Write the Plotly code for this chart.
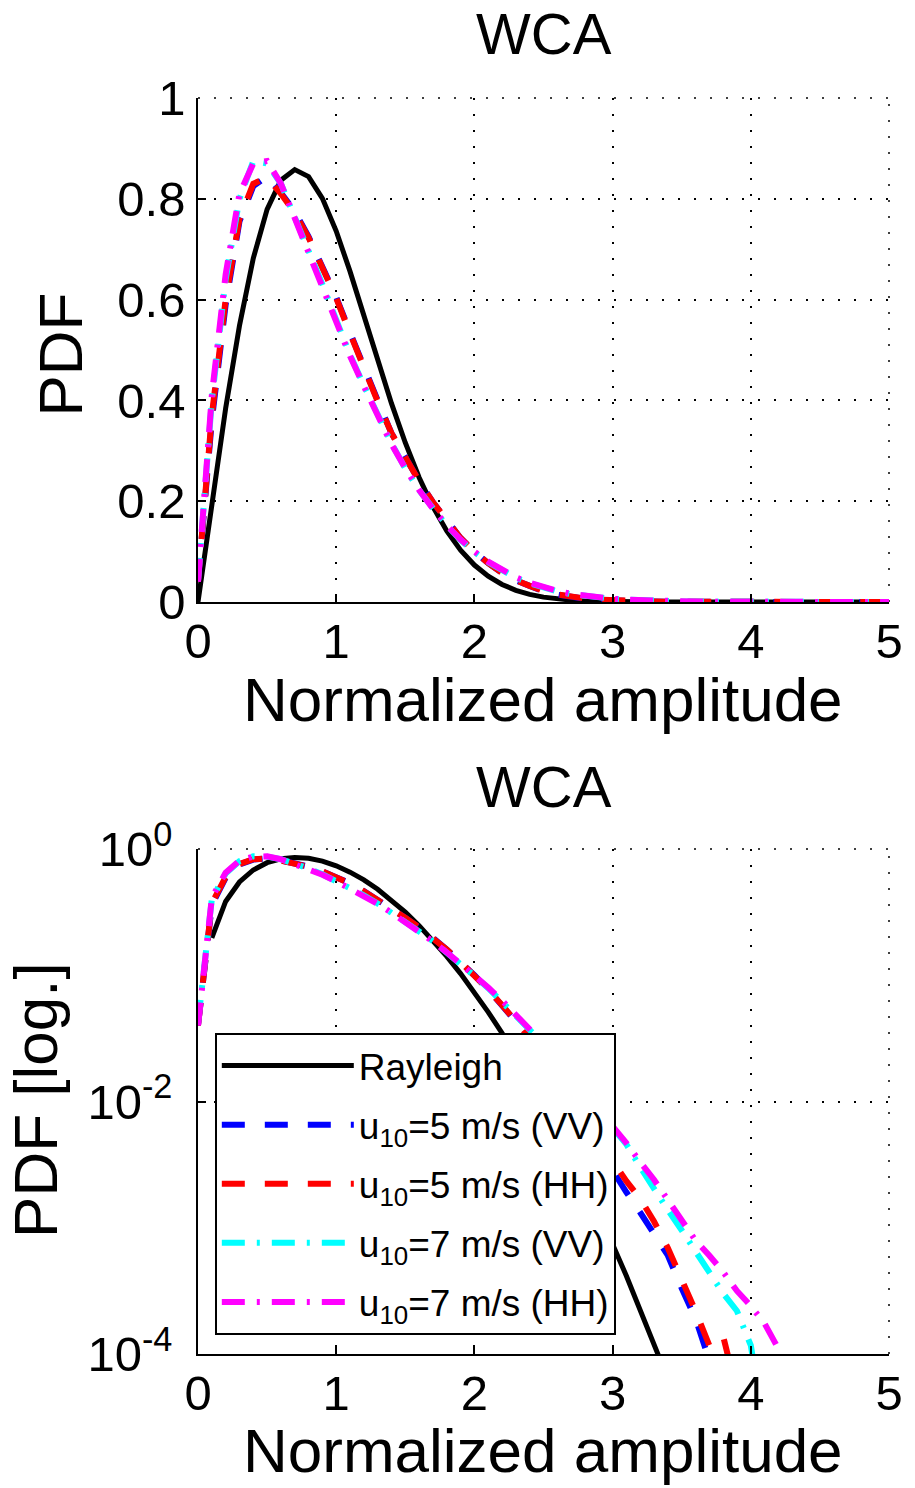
import plotly.graph_objects as go

# ---------------- data ----------------
x = [0.0, 0.1, 0.2, 0.3, 0.4, 0.5, 0.6, 0.7, 0.8, 0.9,
     1.0, 1.1, 1.2, 1.3, 1.4, 1.5, 1.6, 1.7, 1.8, 1.9,
     2.0, 2.1, 2.2, 2.3, 2.4, 2.5, 2.6, 2.7, 2.8, 2.9,
     3.0, 3.1, 3.2, 3.3, 3.4, 3.5, 3.6, 3.7, 3.8, 3.9,
     4.0, 4.1, 4.2, 4.3, 4.4, 4.5, 4.6, 4.7, 4.8, 4.9, 5.0]

rayleigh = [0.0, 0.198, 0.384, 0.548, 0.682, 0.779, 0.837, 0.858, 0.844, 0.801,
            0.736, 0.656, 0.569, 0.480, 0.394, 0.316, 0.247, 0.189, 0.141, 0.103,
            0.0733, 0.0511, 0.0348, 0.0232, 0.0151, 0.00965, 0.00603, 0.00369, 0.00221, 0.00129,
            0.00074, 0.000415, 0.000228, 0.000123, 0.000065, 0.000034, 0.000017, 0.0000085, 0.0000041, 0.0000019,
            0.0000009, 0.0, 0.0, 0.0, 0.0, 0.0, 0.0, 0.0, 0.0, 0.0, 0.0]

u5_vv = [0.040, 0.36, 0.59, 0.755, 0.825, 0.845, 0.812, 0.775, 0.725, 0.665,
         0.605, 0.535, 0.465, 0.400, 0.335, 0.285, 0.240, 0.198, 0.160, 0.127,
         0.100, 0.077, 0.058, 0.043, 0.032, 0.0214, 0.0145, 0.00955, 0.00631, 0.00417,
         0.00275, 0.00191, 0.00132, 0.000912, 0.000603, 0.000331, 0.000191, 0.0000891, 0.0000398, 0.0,
         0.0, 0.0, 0.0, 0.0, 0.0, 0.0, 0.0, 0.0, 0.0, 0.0, 0.0]

u5_hh = [0.040, 0.37, 0.60, 0.760, 0.830, 0.842, 0.810, 0.772, 0.723, 0.665,
         0.603, 0.533, 0.463, 0.398, 0.335, 0.285, 0.240, 0.198, 0.160, 0.127,
         0.100, 0.077, 0.058, 0.043, 0.032, 0.0219, 0.0151, 0.0102, 0.00692, 0.00479,
         0.00331, 0.00234, 0.00170, 0.00112, 0.000692, 0.000398, 0.000219, 0.000117, 0.000138, 0.0000501,
         0.0, 0.0, 0.0, 0.0, 0.0, 0.0, 0.0, 0.0, 0.0, 0.0, 0.0]

u7_vv = [0.042, 0.40, 0.64, 0.800, 0.875, 0.870, 0.830, 0.765, 0.700, 0.630,
         0.560, 0.490, 0.430, 0.370, 0.315, 0.265, 0.222, 0.186, 0.152, 0.123,
         0.099, 0.079, 0.062, 0.048, 0.037, 0.0282, 0.0209, 0.0155, 0.0115, 0.00851,
         0.00631, 0.00457, 0.00302, 0.00200, 0.00138, 0.000955, 0.000646, 0.000437, 0.000302, 0.000219,
         0.000117, 0.0000251, 0.0, 0.0, 0.0, 0.0, 0.0, 0.0, 0.0, 0.0, 0.0]

u7_hh = [0.040, 0.41, 0.65, 0.810, 0.870, 0.875, 0.830, 0.760, 0.695, 0.625,
         0.555, 0.488, 0.428, 0.368, 0.313, 0.265, 0.222, 0.185, 0.152, 0.124,
         0.100, 0.080, 0.063, 0.049, 0.038, 0.0288, 0.0219, 0.0162, 0.0120, 0.00891,
         0.00646, 0.00468, 0.00331, 0.00240, 0.00166, 0.00115, 0.000794, 0.000603, 0.000447, 0.000316,
         0.000240, 0.000174, 0.000110, 0.0000398, 0.0, 0.0, 0.0, 0.0, 0.0, 0.0, 0.0]

names = ["Rayleigh",
         "u<sub>10</sub>=5 m/s (VV)",
         "u<sub>10</sub>=5 m/s (HH)",
         "u<sub>10</sub>=7 m/s (VV)",
         "u<sub>10</sub>=7 m/s (HH)"]
series = [rayleigh, u5_vv, u5_hh, u7_vv, u7_hh]

x_ticks = [0, 1, 2, 3, 4, 5]
y_ticks = [0, 0.2, 0.4, 0.6, 0.8, 1]
y_ticktext = ["0", "0.2", "0.4", "0.6", "0.8", "1"]
ylog_ticks = [1e-4, 1e-2, 1]
ylog_ticktext = ["10<sup>-4</sup>", "10<sup>-2</sup>", "10<sup>0</sup>"]

# ---------------- styles ----------------
colors = ["black", "rgb(0,0,255)", "rgb(255,0,0)", "rgb(0,255,255)", "rgb(255,0,255)"]
dashes = ["solid", "23px,20px", "23px,20px", "23px,12px,3px,12px", "23px,12px,3px,12px"]
widths = [5, 6, 6, 6, 6]

W, H = 915, 1488
L, R, T, B = 198, 18, 98, 134
PW, PH = W - L - R, H - T - B


def pxx(X):
    return (X - L) / PW


def pxy(Y):
    return (H - B - Y) / PH


FONT = "Liberation Sans, Arial, Helvetica, sans-serif"
GRID_DASH = "2px,14px"

fig = go.Figure()
for row, (xa, ya) in enumerate([("x", "y"), ("x2", "y2")]):
    for i in range(5):
        yvals = series[i] if row == 0 else [v if v > 0 else None for v in series[i]]
        fig.add_trace(go.Scatter(
            x=x, y=yvals, mode="lines", name=names[i],
            xaxis=xa, yaxis=ya, connectgaps=False,
            line=dict(color=colors[i], width=widths[i], dash=dashes[i]),
            showlegend=(row == 1), legendgroup="g%d" % i,
        ))

axis_common = dict(
    showline=True, linecolor="black", linewidth=1.5,
    ticks="inside", ticklen=8, tickwidth=1.5, tickcolor="black",
    showgrid=True, gridcolor="black", gridwidth=1.5, griddash=GRID_DASH,
    zeroline=False, mirror=False,
    tickfont=dict(family=FONT, size=49, color="black"),
)

top_dom = [pxy(602), 1.0]
bot_dom = [0.0, pxy(849)]

fig.update_layout(
    width=W, height=H,
    margin=dict(l=L, r=R, t=T, b=B, pad=0),
    paper_bgcolor="white", plot_bgcolor="white",
    font=dict(family=FONT, color="black"),
    xaxis=dict(domain=[0, 1], range=[0, 5], tickvals=x_ticks, anchor="y",
               ticklabelstandoff=-5, **axis_common),
    yaxis=dict(domain=top_dom, range=[0, 1], tickvals=y_ticks, ticktext=y_ticktext,
               anchor="x", ticklabelstandoff=1, **axis_common),
    xaxis2=dict(domain=[0, 1], range=[0, 5], tickvals=x_ticks, anchor="y2",
                ticklabelstandoff=-5, **axis_common),
    yaxis2=dict(domain=bot_dom, type="log", range=[-4, 0], tickvals=ylog_ticks,
                ticktext=ylog_ticktext, anchor="x2", ticklabelstandoff=14, **axis_common),
    showlegend=True,
    legend=dict(
        x=pxx(215), y=pxy(1033), xanchor="left", yanchor="top",
        bgcolor="white", bordercolor="black", borderwidth=2,
        font=dict(family=FONT, size=37, color="black"),
        itemwidth=132, tracegroupgap=8,
    ),
)

# dotted grid lines along the top and right edges (box-off MATLAB style)
shapes = []
for xa, ya in [("x", "y"), ("x2", "y2")]:
    for (x0, x1, y0, y1) in [(0, 1, 1, 1), (1, 1, 0, 1)]:
        shapes.append(dict(type="line", xref=xa + " domain", yref=ya + " domain",
                           x0=x0, x1=x1, y0=y0, y1=y1, layer="below",
                           line=dict(color="black", width=1.5, dash=GRID_DASH)))
fig.update_layout(shapes=shapes)

ann_font_title = dict(family=FONT, size=58, color="black")
ann_font_lab = dict(family=FONT, size=62, color="black")
annotations = [
    dict(text="WCA", x=pxx(548), y=pxy(33), font=ann_font_title),
    dict(text="WCA", x=pxx(548), y=pxy(786), font=ann_font_title),
    dict(text="Normalized amplitude", x=pxx(547), y=pxy(700), font=ann_font_lab),
    dict(text="Normalized amplitude", x=pxx(547), y=pxy(1451), font=ann_font_lab),
    dict(text="PDF", x=pxx(58), y=pxy(355), font=ann_font_lab, textangle=-90),
    dict(text="PDF [log.]", x=pxx(33), y=pxy(1100), font=ann_font_lab, textangle=-90),
]
for a in annotations:
    a.update(xref="paper", yref="paper", showarrow=False,
             xanchor="center", yanchor="middle")
fig.update_layout(annotations=annotations)

fig.write_html("out.html")
